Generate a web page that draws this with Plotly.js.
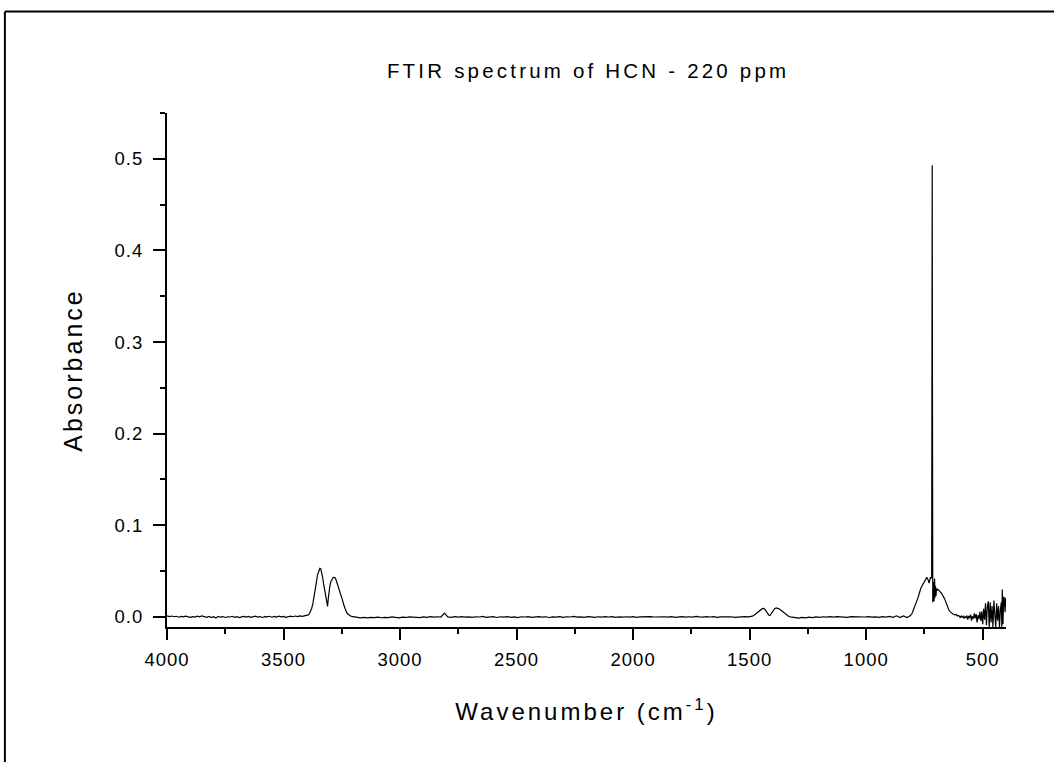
<!DOCTYPE html>
<html>
<head>
<meta charset="utf-8">
<script src="https://cdn.plot.ly/plotly-3.0.1.min.js"></script>
<style>
  html, body { margin: 0; padding: 0; background: #fff; }
  #chart { width: 1054px; height: 762px; }
  #chart .gtitle { letter-spacing: 3.2px; }
  #chart .xtitle, #chart .ytitle { letter-spacing: 3px; }
  #chart .xtick text, #chart .ytick text { letter-spacing: 1px; }
</style>
</head>
<body>
<div id="chart"></div>
<script>
// FTIR spectrum of HCN, 220 ppm
// spectrum split into regions, wavenumber (cm-1) / absorbance pairs

// 4000-3410 flat baseline
const wnBaseHigh = [4000,3990,3980,3970,3960,3950,3940,3930,3920,3910,
  3900,3890,3880,3870,3860,3850,3840,3830,3820,3810,
  3800,3790,3780,3770,3760,3750,3740,3730,3720,3710,
  3700,3690,3680,3670,3660,3650,3640,3630,3620,3610,
  3600,3590,3580,3570,3560,3550,3540,3530,3520,3510,
  3500,3490,3480,3470,3460,3450,3440,3430,3420,3410];
const absBaseHigh = [0.0012,0.0004,0.0010,0.0002,0.0007,-0.0003,0.0006,0.0000,0.0009,0.0001,
  -0.0005,0.0004,-0.0002,0.0008,0.0000,0.0011,0.0002,-0.0004,0.0005,-0.0008,
  0.0003,-0.0012,0.0006,-0.0003,0.0004,-0.0006,0.0002,-0.0001,0.0007,-0.0004,
  0.0003,-0.0007,0.0001,0.0005,-0.0002,0.0006,-0.0005,0.0002,0.0008,-0.0001,
  0.0004,-0.0006,0.0003,0.0000,0.0007,-0.0003,0.0005,-0.0002,0.0009,0.0001,
  0.0006,-0.0004,0.0003,0.0008,0.0002,0.0010,0.0004,0.0011,0.0007,0.0012];

// C-H stretch band (P/R branches around 3311)
const wnCH = [3404,3399,3394,3389,3384,3379,3374,3369,3364,3359,3354,3349,3344,3340,
  3336,3332,3328,3324,3320,3316,3313,3311,3308,3305,3301,3297,3292,3287,3282,3278,
  3274,3270,3266,3262,3258,3254,3250,3246,3242,3238,3234,3230,3225,3220,3214,3208];
const absCH = [0.0010,0.0015,0.0022,0.0035,0.0060,0.0095,0.0145,0.0210,0.0290,0.0380,0.0460,0.0510,0.0530,0.0525,
  0.0490,0.0430,0.0360,0.0290,0.0220,0.0160,0.0125,0.0115,0.0200,0.0280,0.0340,0.0385,0.0415,0.0430,0.0432,0.0425,
  0.0400,0.0370,0.0335,0.0310,0.0290,0.0255,0.0215,0.0175,0.0135,0.0100,0.0072,0.0052,0.0035,0.0022,0.0012,0.0006];

// 3200-1505 baseline
const wnBaseMid = [3200,3185,3170,3155,3140,3125,3110,3095,3080,3065,
  3050,3035,3020,3005,2990,2975,2960,2945,2930,2915,
  2900,2885,2870,2855,2840,2825,2810,2795,2780,2765,
  2750,2735,2720,2705,2690,2675,2660,2645,2630,2615,
  2600,2585,2570,2555,2540,2525,2510,2495,2480,2465,
  2450,2435,2420,2405,2390,2375,2360,2345,2330,2315,
  2300,2285,2270,2255,2240,2225,2210,2195,2180,2165,
  2150,2135,2120,2105,2090,2075,2060,2045,2030,2015,
  2000,1985,1970,1955,1940,1925,1910,1895,1880,1865,
  1850,1835,1820,1805,1790,1775,1760,1745,1730,1715,
  1700,1685,1670,1655,1640,1625,1610,1595,1580,1565,
  1550,1535,1520,1505];
const absBaseMid = [0.0002,-0.0006,-0.0010,-0.0004,-0.0011,-0.0005,-0.0008,-0.0002,-0.0009,-0.0004,
  -0.0007,0.0001,-0.0005,-0.0010,-0.0003,-0.0006,0.0000,-0.0004,-0.0002,-0.0007,
  0.0001,-0.0005,0.0003,-0.0003,0.0002,-0.0001,0.0042,0.0000,-0.0004,0.0003,
  -0.0002,0.0004,-0.0003,0.0001,-0.0005,0.0002,-0.0001,0.0005,-0.0004,0.0000,
  0.0003,-0.0006,0.0002,-0.0002,0.0004,-0.0004,0.0001,-0.0007,0.0002,-0.0001,
  0.0003,-0.0005,0.0000,0.0004,-0.0003,0.0002,-0.0006,0.0001,-0.0002,0.0003,
  -0.0004,0.0002,-0.0001,0.0005,-0.0003,0.0001,-0.0005,0.0003,0.0000,-0.0004,
  0.0002,-0.0002,0.0004,-0.0001,0.0003,-0.0005,0.0001,-0.0003,0.0002,-0.0002,
  0.0003,-0.0004,0.0000,0.0002,-0.0003,0.0004,-0.0001,0.0001,-0.0005,0.0002,
  -0.0002,0.0003,-0.0004,0.0001,0.0004,-0.0002,0.0002,-0.0003,0.0005,0.0000,
  -0.0003,0.0003,-0.0001,0.0004,-0.0004,0.0001,0.0003,-0.0002,0.0002,-0.0004,
  0.0001,-0.0002,0.0003,0.0000];

// overtone/combination band near 1410
const wnComb = [1495,1488,1481,1474,1467,1460,1453,1446,1440,1434,1428,1422,1416,1412,
  1406,1400,1393,1386,1380,1374,1367,1360,1353,1346,1339,1332,1325,1318];
const absComb = [0.0002,0.0008,0.0018,0.0032,0.0048,0.0065,0.0080,0.0090,0.0093,0.0082,0.0058,0.0032,0.0015,0.0018,
  0.0045,0.0072,0.0090,0.0099,0.0098,0.0090,0.0076,0.0060,0.0043,0.0027,0.0014,0.0005,0.0000,-0.0004];

// 1305-825 baseline
const wnBaseLow = [1305,1290,1275,1260,1245,1230,1215,1200,1185,1170,
  1155,1140,1125,1110,1095,1080,1065,1050,1035,1020,
  1005,990,975,960,945,930,915,900,885,870,
  855,840,825];
const absBaseLow = [-0.0008,-0.0012,-0.0005,-0.0010,-0.0003,-0.0007,0.0001,-0.0004,0.0002,-0.0003,
  0.0003,-0.0002,0.0004,-0.0001,0.0002,-0.0004,0.0003,0.0000,-0.0003,0.0002,
  -0.0001,0.0004,-0.0003,0.0001,-0.0005,0.0003,-0.0002,0.0005,-0.0004,0.0012,
  -0.0008,0.0010,-0.0006];

// bending band with the sharp Q branch at ~712
const wnBend = [815,809,803,798,793,788,783,778,773,769,765,761,757,752,748,744,740,736,733,730,
  727,724,721,719,717.8,716.6,715.4,714.2,712,710,708.5,706.5,704.5,702.5,700.5,698,695,692,688,684,
  680,676,672,668,664,660,656,652,649,645,641,637,632,626,620,614,608,603];
const absBend = [0.0008,0.0018,0.0040,0.0070,0.0105,0.0140,0.0170,0.0205,0.0250,0.0290,0.0315,0.0335,0.0355,0.0375,0.0400,0.0425,0.0432,0.0415,0.0385,0.0370,
  0.0400,0.0435,0.0420,0.0440,0.2500,0.4930,0.2200,0.0160,0.0190,0.0380,0.0170,0.0420,0.0210,0.0340,0.0230,0.0310,0.0290,0.0300,0.0285,0.0275,
  0.0268,0.0255,0.0240,0.0220,0.0200,0.0175,0.0145,0.0110,0.0095,0.0075,0.0060,0.0050,0.0040,0.0030,0.0022,0.0026,0.0010,0.0016];

// noisy detector edge 600-401
const wnEdge = [600,596,592,588,584,580,576,572,568,564,560,556,552,548,544,540,536,532,528,524,
  520,516,512,508,504,500,496,492,488,484,480,476,472,468,464,460,456,452,448,444,
  440,436,432,428,424,420,418,416,413,410,407,404,401];
const absEdge = [0.0005,-0.0010,0.0012,-0.0004,0.0008,-0.0018,0.0006,-0.0008,0.0015,-0.0030,0.0010,-0.0012,0.0025,-0.0040,0.0008,-0.0020,0.0040,-0.0015,0.0030,-0.0060,
  0.0020,-0.0025,0.0055,-0.0045,0.0060,-0.0080,0.0090,-0.0030,0.0150,-0.0090,0.0110,0.0170,-0.0110,0.0160,-0.0060,0.0120,-0.0110,0.0180,0.0030,-0.0110,
  0.0150,-0.0040,0.0120,-0.0110,0.0080,0.0160,-0.0110,0.0300,-0.0080,0.0220,0.0200,0.0050,0.0210];

const wavenumber = [].concat(wnBaseHigh, wnCH, wnBaseMid, wnComb, wnBaseLow, wnBend, wnEdge);
const absorbance = [].concat(absBaseHigh, absCH, absBaseMid, absComb, absBaseLow, absBend, absEdge);

const FONT = "Liberation Sans, Arial, Helvetica, sans-serif";

const trace = {
  type: "scatter",
  mode: "lines",
  x: wavenumber,
  y: absorbance,
  line: { color: "#000", width: 1.2 },
  hoverinfo: "x+y"
};

// frame corner of the original figure page (top + left edges only visible)
const frame = { color: "#000", width: 2 };

const layout = {
  width: 1054,
  height: 762,
  font: { family: FONT, color: "#000" },
  paper_bgcolor: "#fff",
  plot_bgcolor: "#fff",
  showlegend: false,
  margin: { l: 167, r: 48.3, t: 113.45, b: 135.3, pad: 0 },
  title: {
    text: "FTIR spectrum of HCN - 220 ppm",
    font: { size: 20.5, family: FONT, color: "#000" },
    x: 0.558, xanchor: "center",
    y: 0.907, yanchor: "middle"
  },
  xaxis: {
    range: [4000, 400],
    dtick: 500, tick0: 0,
    showline: true, linecolor: "#000", linewidth: 2,
    ticks: "outside", ticklen: 11, tickwidth: 2, tickcolor: "#000",
    minor: { dtick: 250, ticks: "outside", ticklen: 5, tickwidth: 2, tickcolor: "#000" },
    showgrid: false, zeroline: false,
    tickfont: { size: 18.5, family: FONT, color: "#000" },
    ticklabelstandoff: 4,
    title: { text: "Wavenumber (cm<sup>-1</sup>)", font: { size: 24, family: FONT, color: "#000" }, standoff: 34 }
  },
  yaxis: {
    range: [-0.011, 0.55],
    dtick: 0.1, tick0: 0, tickformat: ".1f",
    showline: true, linecolor: "#000", linewidth: 2,
    ticks: "outside", ticklen: 12, tickwidth: 2, tickcolor: "#000",
    minor: { dtick: 0.05, ticks: "outside", ticklen: 5, tickwidth: 2, tickcolor: "#000" },
    showgrid: false, zeroline: false,
    tickfont: { size: 18.5, family: FONT, color: "#000" },
    ticklabelstandoff: 6,
    title: { text: "Absorbance", font: { size: 25, family: FONT, color: "#000" }, standoff: 28 }
  },
  shapes: [
    { type: "line", xref: "paper", yref: "paper", x0: -0.1932, x1: 1.08, y0: 1.1977, y1: 1.1977, line: frame },
    { type: "line", xref: "paper", yref: "paper", x0: -0.1932, x1: -0.1932, y0: 1.1977, y1: -0.3, line: frame }
  ]
};

Plotly.newPlot("chart", [trace], layout, { displayModeBar: false, responsive: false });
</script>
</body>
</html>
